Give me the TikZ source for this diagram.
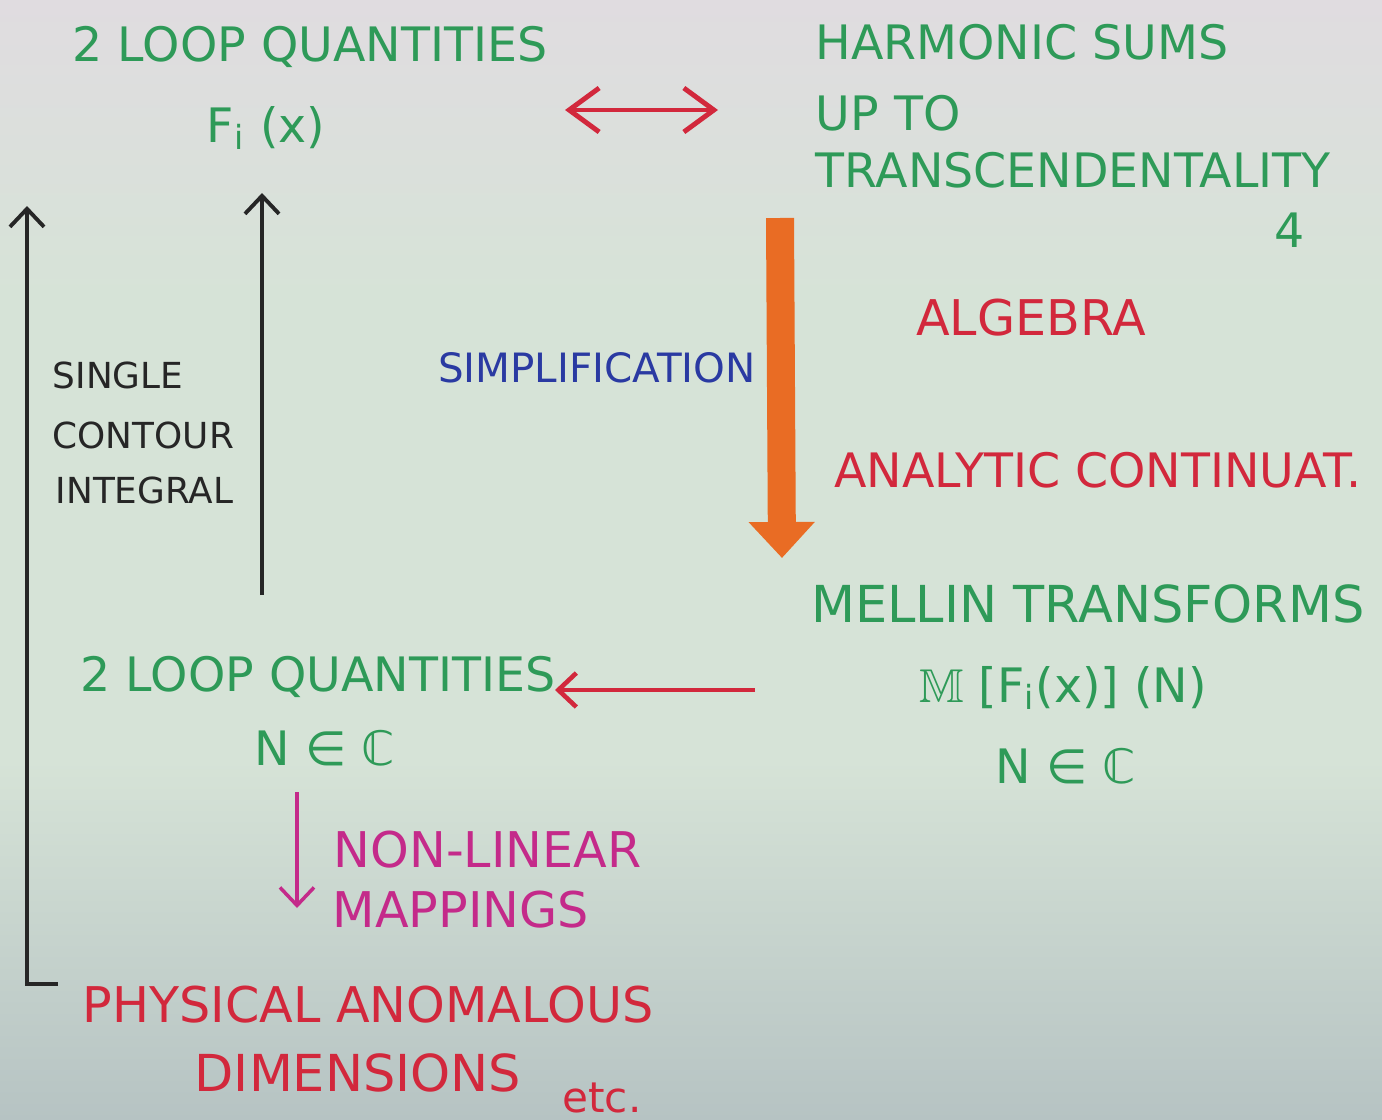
\documentclass[tikz,border=0pt]{standalone}
\usepackage{fontspec}
\usepackage{amssymb}
\setmainfont{DejaVu Sans}
\usetikzlibrary{arrows.meta,positioning}
\definecolor{pengreen}{HTML}{2E9A58}
\definecolor{penred}{HTML}{D2283C}
\definecolor{penblue}{HTML}{2A3AA2}
\definecolor{penmag}{HTML}{C42A8A}
\definecolor{penorange}{HTML}{E96C24}
\definecolor{penblack}{HTML}{262626}
\definecolor{papertop}{HTML}{E0DCE0}
\definecolor{papermid}{HTML}{D6E3D7}
\definecolor{paperbot}{HTML}{B6C3C3}

\begin{document}
\begin{tikzpicture}[
  lbl/.style={inner sep=0pt, font=\fontsize{13.5}{16}\selectfont},
  grn/.style={lbl, text=pengreen},
  rd/.style={lbl, text=penred, font=\fontsize{14}{16}\selectfont},
  blk/.style={inner sep=0pt, anchor=west, text=penblack, font=\fontsize{10.2}{12}\selectfont},
  mag/.style={inner sep=0pt, anchor=west, text=penmag, font=\fontsize{14}{16}\selectfont},
  pen/.style={line width=1.1pt, -{Straight Barb[length=1.8mm,width=3.4mm]}},
]
  % paper
  \shade[top color=papertop, bottom color=papermid] (0,0) rectangle (13.82,-3.00);
  \fill[papermid] (0,-3.00) rectangle (13.82,-7.60);
  \shade[top color=papermid, bottom color=paperbot] (0,-7.60) rectangle (13.82,-11.20);
  \useasboundingbox (0,0) rectangle (13.82,-11.20);

  % top left
  \node[grn] (q2top) at (3.10,-0.47) {2 LOOP QUANTITIES};
  \node[grn] (fix) at (2.66,-1.28) {F\textsubscript{i} (x)};

  % top right
  \node[grn] (harm) at (10.22,-0.42) {HARMONIC SUMS};
  \node[grn, anchor=west] (upto) at (8.15,-1.13) {UP TO};
  \node[grn, anchor=west] (trans) at (8.15,-1.70) {TRANSCENDENTALITY};
  \node[grn] (four) at (12.90,-2.30) {4};

  % middle
  \node[rd] (alg) at (10.31,-3.18) {ALGEBRA};
  \node[lbl, text=penblue, font=\fontsize{11.5}{14}\selectfont] (simp) at (5.97,-3.68) {SIMPLIFICATION};
  \node[rd, font=\fontsize{13.5}{16}\selectfont] (anal) at (10.98,-4.70) {ANALYTIC CONTINUAT.};

  % bottom right
  \node[grn, font=\fontsize{14.5}{16}\selectfont] (mellin) at (10.88,-6.04) {MELLIN TRANSFORMS};
  \node[grn] (mft) at (10.63,-6.88) {$\mathbb{M}$ [F\textsubscript{i}(x)] (N)};
  \node[grn] (nc2) at (10.66,-7.66) {N ∈ ℂ};

  % bottom left
  \node[grn] (q2bot) at (3.18,-6.77) {2 LOOP QUANTITIES};
  \node[grn] (nc1) at (3.25,-7.48) {N ∈ ℂ};

  \node[blk] (single) at (0.52,-3.75) {SINGLE};
  \node[blk] (contour) at (0.52,-4.35) {CONTOUR};
  \node[blk] (integral) at (0.55,-4.90) {INTEGRAL};

  \node[mag] (nonlin) at (3.33,-8.50) {NON-LINEAR};
  \node[mag] (mapp) at (3.32,-9.10) {MAPPINGS};

  \node[rd, font=\fontsize{14}{18}\selectfont] (phys) at (3.68,-10.05) {PHYSICAL ANOMALOUS};
  \node[rd, font=\fontsize{14.5}{18}\selectfont] (dims) at (3.58,-10.73) {DIMENSIONS};
  \node[rd, font=\fontsize{12}{14}\selectfont] (etc) at (6.02,-10.98) {etc.};

  % arrow ends
  \coordinate (dblL) at (5.65,-1.10);
  \coordinate (dblR) at (7.18,-1.10);
  \coordinate (orTop) at (7.80,-2.18);
  \coordinate (orBot) at (7.82,-5.58);
  \coordinate (lfBot) at (0.58,-9.84);
  \coordinate (lfTop) at (0.27,-2.06);
  \coordinate (upBot) at (2.62,-5.95);
  \coordinate (upTop) at (2.62,-1.93);
  \coordinate (rdR) at (7.55,-6.90);
  \coordinate (rdL) at (5.55,-6.90);
  \coordinate (mgTop) at (2.97,-7.92);
  \coordinate (mgBot) at (2.97,-9.08);

  \draw[penred, line width=1.4pt, {Straight Barb[length=3mm,width=4.4mm]}-{Straight Barb[length=3mm,width=4.4mm]}] (dblL) -- (dblR);
  \draw[penorange, line width=2.8mm, -{Triangle[length=3.6mm,width=6.4mm]}] (orTop) -- (orBot);
  \draw[penblack, pen] (lfBot) -| (lfTop);
  \draw[penblack, pen] (upBot) -- (upTop);
  \draw[penred, pen, line width=1.3pt] (rdR) -- (rdL);
  \draw[penmag, pen, line width=1pt] (mgTop) -- (mgBot);
\end{tikzpicture}
\end{document}
